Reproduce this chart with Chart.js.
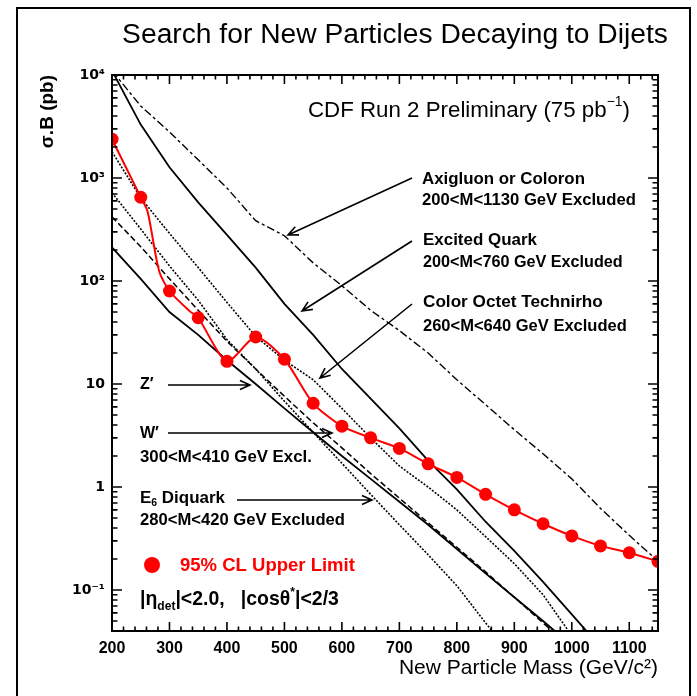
<!DOCTYPE html>
<html>
<head>
<meta charset="utf-8">
<script src="https://cdn.jsdelivr.net/npm/chart.js@4.4.1/dist/chart.umd.min.js"></script>
<style>
  html, body { margin: 0; padding: 0; background: #fff; }
  canvas { display: block; }
</style>
</head>
<body>
<canvas id="chart" width="697" height="696"></canvas>
<script>
const FONT = '"Liberation Sans", Arial, sans-serif';

// theory curves, sigma*B in pb, every 50 GeV from 200
const theoryMass = [200, 250, 300, 350, 400, 450, 500, 550, 600, 650, 700, 750, 800, 850, 900, 950, 1000, 1050, 1100, 1150];
const axigluon = [11000, 5000, 2800, 1500, 800, 385, 275, 150, 90, 52, 33, 20, 11, 6.3, 3.6, 2.1, 1.2, 0.62, 0.34, 0.19];
const excitedQuark = [11000, 3300, 1270, 580, 280, 135, 60, 30, 14, 7.2, 3.7, 1.8, 0.95, 0.46, 0.24, 0.12, 0.058, 0.028];
const technirho = [1800, 640, 290, 135, 62, 29, 17, 11, 5.8, 3.0, 1.6, 1.0, 0.6, 0.33, 0.18, 0.09, 0.036, 0.015];
const wPrime = [420, 215, 105, 52, 26, 14, 7.6, 4.2, 2.4, 1.35, 0.78, 0.45, 0.26, 0.15, 0.085, 0.048, 0.027];
const zPrime = [212, 105, 50, 30, 17, 10, 5.8, 3.4, 2.0, 1.2, 0.72, 0.43, 0.25, 0.145, 0.085, 0.05, 0.029];
const e6Diquark = [720, 320, 140, 65, 27, 14, 6.8, 3.4, 1.7, 0.85, 0.43, 0.22, 0.11, 0.048, 0.022];

// 95% CL upper limit (markers at the 50 GeV points)
const limitMass = [200, 250, 262, 282, 300, 335, 350, 400, 450, 500, 550, 600, 650, 700, 750, 800, 850, 900, 950, 1000, 1050, 1100, 1150];
const limitValue = [2380, 650, 470, 125, 80, 51, 44, 16.6, 28.6, 17.4, 6.5, 3.9, 3.0, 2.37, 1.68, 1.24, 0.85, 0.60, 0.44, 0.335, 0.268, 0.23, 0.19];

const xTicks = [200, 300, 400, 500, 600, 700, 800, 900, 1000, 1100];
const yTickValues = [0.1, 1, 10, 100, 1000, 10000];
const yTickText = ['10\u207B\u00B9', '1', '10', '10\u00B2', '10\u00B3', '10\u2074'];

function curve(values, mass) {
  return values.map((v, i) => ({ x: mass[i], y: v }));
}

function theory(values, dash, width) {
  return {
    data: curve(values, theoryMass),
    borderColor: '#000',
    borderWidth: width,
    borderDash: dash,
    pointRadius: 0,
    tension: 0,
    fill: false
  };
}

// text with sub/superscript pieces, optionally stretched to a given width
function rich(ctx, parts, x, y, size, o) {
  const weight = o.weight || 'bold';
  const setFont = (s, k) => { ctx.font = weight + ' ' + (k ? s * 0.62 : s) + 'px ' + FONT; };
  const total = s => parts.reduce((w, p) => { setFont(s, p[1]); return w + ctx.measureText(p[0]).width; }, 0);
  if (o.width) size = size * o.width / total(size);
  let cx = o.align === 'center' ? x - total(size) / 2 : x;
  ctx.fillStyle = o.color || '#000';
  ctx.textAlign = 'left';
  ctx.textBaseline = 'middle';
  for (const p of parts) {
    setFont(size, p[1]);
    const dy = p[1] === 'sub' ? size * 0.32 : p[1] === 'sup' ? -size * 0.38 : 0;
    ctx.fillText(p[0], cx, y + dy);
    cx += ctx.measureText(p[0]).width;
  }
}

function arrow(ctx, x1, y1, x2, y2) {
  const a = Math.atan2(y2 - y1, x2 - x1), h = 11, w = 0.42;
  ctx.beginPath();
  ctx.moveTo(x1, y1);
  ctx.lineTo(x2, y2);
  ctx.moveTo(x2 - h * Math.cos(a - w), y2 - h * Math.sin(a - w));
  ctx.lineTo(x2, y2);
  ctx.lineTo(x2 - h * Math.cos(a + w), y2 - h * Math.sin(a + w));
  ctx.stroke();
}

const notes = [
  { parts: [['Search for New Particles Decaying to Dijets']], x: 395, y: 35, size: 24, width: 546, align: 'center', weight: 'normal' },
  { parts: [['CDF Run 2 Preliminary (75 pb'], ['\u22121', 'sup'], [')']], x: 308, y: 111, size: 20, width: 322, weight: 'normal' },
  { parts: [['Axigluon or Coloron']], x: 422, y: 179, size: 16, width: 163 },
  { parts: [['200<M<1130 GeV Excluded']], x: 422, y: 200, size: 14, width: 214 },
  { parts: [['Excited Quark']], x: 423, y: 240, size: 16, width: 114 },
  { parts: [['200<M<760 GeV Excluded']], x: 423, y: 263, size: 14, width: 200 },
  { parts: [['Color Octet Technirho']], x: 423, y: 302, size: 16, width: 180 },
  { parts: [['260<M<640 GeV Excluded']], x: 423, y: 326, size: 14, width: 204 },
  { parts: [['Z\u2032']], x: 140, y: 385, size: 16 },
  { parts: [['W\u2032']], x: 140, y: 434, size: 16 },
  { parts: [['300<M<410 GeV Excl.']], x: 140, y: 457, size: 15, width: 172 },
  { parts: [['E'], ['6', 'sub'], [' Diquark']], x: 140, y: 498, size: 16, width: 85 },
  { parts: [['280<M<420 GeV Excluded']], x: 140, y: 520, size: 15, width: 205 },
  { parts: [['95% CL Upper Limit']], x: 180, y: 566, size: 17, width: 175, color: '#ff0000' },
  { parts: [['|\u03B7'], ['det', 'sub'], ['|<2.0,   |cos\u03B8'], ['*', 'sup'], ['|<2/3']], x: 140, y: 600, size: 15, width: 199 }
];

const arrows = [
  [412, 178, 288, 235],
  [412, 241, 302, 311],
  [412, 304, 320, 378],
  [168, 385, 250, 385],
  [168, 433, 332, 433],
  [237, 500, 372, 500]
];

const decor = {
  id: 'decor',
  beforeDraw(chart) {
    const ctx = chart.ctx;
    ctx.save();
    ctx.fillStyle = '#fff';
    ctx.fillRect(0, 0, chart.width, chart.height);
    ctx.restore();
  },
  afterDraw(chart) {
    const { ctx, chartArea: a, scales: { x, y } } = chart;
    ctx.save();
    ctx.strokeStyle = '#000';
    ctx.lineWidth = 1.6;
    ctx.beginPath();
    for (let m = 200; m <= 1150; m += 20) {
      const px = x.getPixelForValue(m);
      const len = m % 100 === 0 ? 9 : 4.5;
      ctx.moveTo(px, a.bottom); ctx.lineTo(px, a.bottom - len);
      ctx.moveTo(px, a.top); ctx.lineTo(px, a.top + len);
    }
    for (let e = -2; e <= 3; e++) {
      for (let k = 1; k <= 9; k++) {
        const v = k * Math.pow(10, e);
        if (v < 0.0399 || v > 10000) continue;
        const py = y.getPixelForValue(v);
        const len = k === 1 ? 10 : 5.5;
        ctx.moveTo(a.left, py); ctx.lineTo(a.left + len, py);
        ctx.moveTo(a.right, py); ctx.lineTo(a.right - len, py);
      }
    }
    ctx.stroke();

    ctx.lineWidth = 2;
    ctx.strokeRect(a.left, a.top, a.width, a.height);
    ctx.strokeRect(17, 8, 673, 710);

    ctx.lineWidth = 1.6;
    arrows.forEach(p => arrow(ctx, p[0], p[1], p[2], p[3]));

    notes.forEach(n => rich(ctx, n.parts, n.x, n.y, n.size, n));

    ctx.fillStyle = '#ff0000';
    ctx.beginPath();
    ctx.arc(152, 565, 8, 0, Math.PI * 2);
    ctx.fill();
    ctx.restore();
  }
};

new Chart(document.getElementById('chart'), {
  type: 'line',
  data: {
    datasets: [
      {
        data: curve(limitValue, limitMass),
        borderColor: '#ff0000',
        backgroundColor: '#ff0000',
        borderWidth: 2,
        tension: 0.25,
        pointRadius: c => (limitMass[c.dataIndex] % 50 === 0 ? 6.5 : 0),
        pointBorderWidth: 0,
        fill: false
      },
      theory(axigluon, [8, 3, 3, 3], 1.4),
      theory(excitedQuark, [], 1.8),
      theory(technirho, [2, 1.5], 1.6),
      theory(wPrime, [6, 3], 1.5),
      theory(zPrime, [], 1.8),
      theory(e6Diquark, [2, 1.5], 1.6)
    ]
  },
  options: {
    responsive: false,
    animation: false,
    devicePixelRatio: 1,
    layout: { padding: { left: 0, top: 75, right: 39, bottom: 0 } },
    plugins: { legend: { display: false }, tooltip: { enabled: false } },
    scales: {
      x: {
        type: 'linear',
        min: 200,
        max: 1150,
        grid: { display: false, drawTicks: false },
        border: { display: false },
        afterBuildTicks: s => { s.ticks = xTicks.map(v => ({ value: v })); },
        afterFit: s => { s.height = 65; },
        ticks: {
          padding: 8,
          color: '#000',
          autoSkip: false,
          maxRotation: 0,
          font: { family: FONT, size: 16, weight: 'bold' },
          callback: v => String(v)
        },
        title: {
          display: true,
          text: 'New Particle Mass (GeV/c\u00B2)',
          align: 'end',
          color: '#000',
          font: { family: FONT, size: 21 },
          padding: { top: 0, bottom: 15 }
        }
      },
      y: {
        type: 'logarithmic',
        min: 0.04,
        max: 10000,
        grid: { display: false, drawTicks: false },
        border: { display: false },
        afterBuildTicks: s => { s.ticks = yTickValues.map(v => ({ value: v })); },
        afterFit: s => { s.width = 112; },
        ticks: {
          padding: 7,
          color: '#000',
          autoSkip: false,
          font: { family: '"DejaVu Sans", sans-serif', size: 14, weight: 'bold' },
          callback: (v, i) => yTickText[i]
        },
        title: {
          display: true,
          text: '\u03C3.B (pb)',
          align: 'end',
          color: '#000',
          font: { family: FONT, size: 19, weight: 'bold' },
          padding: { top: 36, bottom: 0 }
        }
      }
    }
  },
  plugins: [decor]
});
</script>
</body>
</html>
